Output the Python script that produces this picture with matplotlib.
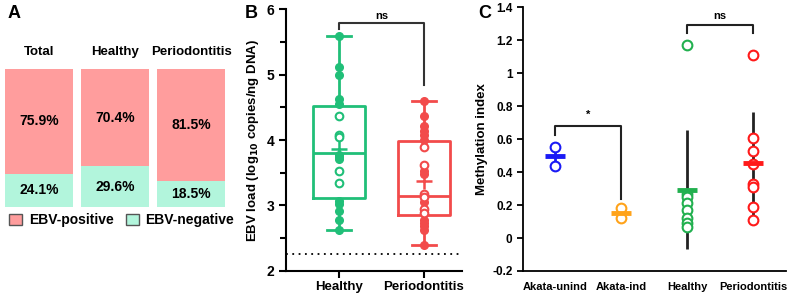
import numpy as np
import matplotlib
matplotlib.use("Agg")
import matplotlib.pyplot as plt
from matplotlib.patches import Patch
from matplotlib.ticker import MultipleLocator

plt.rcParams['font.family'] = ['Liberation Sans', 'DejaVu Sans']
plt.rcParams['font.weight'] = 'bold'

# panel A: EBV prevalence (%)
groups_a = ["Total", "Healthy", "Periodontitis"]
ebv_pos = [75.9, 70.4, 81.5]
ebv_neg = [24.1, 29.6, 18.5]

# panel B: EBV load, log10 copies/ng DNA
b_groups = ["Healthy", "Periodontitis"]
healthy_filled = [5.59, 5.12, 4.99, 4.63, 4.55, 3.77, 3.74, 3.71, 3.07, 3.03, 2.92, 2.78, 2.63]
healthy_open = [4.37, 4.08, 4.04, 3.53, 3.34]
perio_filled = [4.60, 4.36, 4.21, 4.13, 4.08, 4.00, 3.53, 3.48, 3.06, 2.78, 2.73, 2.68, 2.62, 2.39]
perio_open = [3.89, 3.62, 3.18, 3.13, 2.94, 2.88]
b_q1 = [3.11, 2.85]
b_median = [3.80, 3.15]
b_q3 = [4.52, 3.99]
b_min = [2.63, 2.39]
b_max = [5.59, 4.60]
b_mean = [3.87, 3.37]
detection_limit = 2.26

# panel C: methylation index
c_groups = ["Akata-unind", "Akata-ind", "Healthy", "Periodontitis"]
akata_unind = [0.55, 0.44]
akata_ind = [0.18, 0.12]
c_healthy = [1.17, 0.27, 0.25, 0.21, 0.17, 0.12, 0.09, 0.07]
c_perio = [1.11, 0.61, 0.53, 0.45, 0.33, 0.31, 0.19, 0.11]

green = "#20BF78"
red = "#F24B4B"
pink = "#FF9D9D"
mint = "#B2F5DC"

fig = plt.figure(figsize=(7.88, 2.95), dpi=100)

# ---------- A ----------
axA = fig.add_axes([0.0064, 0.2983, 0.2792, 0.4678])
xa = np.arange(len(groups_a))
axA.bar(xa, ebv_neg, width=0.895, color=mint)
axA.bar(xa, ebv_pos, bottom=ebv_neg, width=0.895, color=pink)
for i in xa:
    axA.text(i, ebv_neg[i] + ebv_pos[i] / 2, f"{ebv_pos[i]}%", ha="center", va="center",
             fontsize=10, fontweight="bold")
    axA.text(i, ebv_neg[i] / 2, f"{ebv_neg[i]}%", ha="center", va="center",
             fontsize=10, fontweight="bold")
    axA.text(i, 112, groups_a[i], ha="center", va="center", fontsize=9.5, fontweight="bold")
axA.set_xlim(-0.447, 2.447)
axA.set_ylim(0, 100)
axA.axis("off")
handles = [Patch(facecolor=pink, edgecolor="#555555", label="EBV-positive"),
           Patch(facecolor=mint, edgecolor="#555555", label="EBV-negative")]
fig.legend(handles=handles, loc="center left", bbox_to_anchor=(-0.004, 0.253), ncol=2,
           frameon=False, handlelength=0.9, handleheight=0.9,
           handletextpad=0.5, columnspacing=0.9, prop={"weight": "bold", "size": 10})

# ---------- B ----------
axB = fig.add_axes([0.363, 0.0814, 0.223, 0.888])
colors_b = [green, red]
stats = []
for i in range(2):
    stats.append(dict(med=b_median[i], q1=b_q1[i], q3=b_q3[i], whislo=b_min[i],
                      whishi=b_max[i], fliers=[], label=b_groups[i]))
pos = [1, 2]
for i in range(2):
    c = colors_b[i]
    axB.bxp([stats[i]], positions=[pos[i]], widths=0.61, showfliers=False,
            boxprops=dict(color=c, linewidth=2), medianprops=dict(color=c, linewidth=2),
            whiskerprops=dict(color=c, linewidth=2), capprops=dict(color=c, linewidth=2),
            capwidths=0.28)
filled = [healthy_filled, perio_filled]
opened = [healthy_open, perio_open]
for i in range(2):
    c = colors_b[i]
    axB.plot([pos[i]] * len(filled[i]), filled[i], "o", color=c, ms=5.5, zorder=3)
    axB.plot([pos[i]] * len(opened[i]), opened[i], "o", mfc="white", mec=c, mew=1.5,
             ms=5.5, zorder=3)
    axB.plot(pos[i], b_mean[i], "+", color=c, ms=12, mew=1.8, zorder=4)
axB.axhline(detection_limit, color="black", ls=(0, (1, 2.5)), lw=1.3)
# ns bracket
axB.plot([1, 1, 2, 2], [5.69, 5.78, 5.78, 4.84], color="#333333", lw=1.5)
axB.text(1.5, 5.82, "ns", ha="center", va="bottom", fontsize=8)
axB.set_xlim(0.376, 2.447)
axB.set_ylim(2, 6)
axB.set_xticks(pos)
axB.set_xticklabels(b_groups, fontsize=9.5, fontweight="bold")
axB.yaxis.set_major_locator(MultipleLocator(1))
axB.yaxis.set_minor_locator(MultipleLocator(0.5))
axB.tick_params(axis="y", labelsize=10, width=1.5, length=5)
axB.tick_params(axis="y", which="minor", width=1.5, length=4)
axB.tick_params(axis="x", width=1.5, length=5, pad=2)
for s in ["top", "right"]:
    axB.spines[s].set_visible(False)
for s in ["left", "bottom"]:
    axB.spines[s].set_linewidth(1.5)
axB.set_ylabel("EBV load (log$_{\\mathbf{10}}$ copies/ng DNA)", fontsize=9.5,
               fontweight="bold", labelpad=4)

# ---------- C ----------
axC = fig.add_axes([0.6637, 0.0814, 0.334, 0.8936])
c_data = [akata_unind, akata_ind, c_healthy, c_perio]
c_colors = ["#1A1AF5", "#FFA31A", "#22B04F", "#FF1A1A"]
err_colors = ["#1A1AF5", "#FFA31A", "#222222", "#222222"]
for i, vals in enumerate(c_data):
    m = np.mean(vals)
    sd = np.std(vals, ddof=1)
    axC.errorbar(i, m, yerr=sd, fmt="none", ecolor=err_colors[i], elinewidth=2, zorder=1)
    axC.plot([i] * len(vals), vals, "o", mfc="white", mec=c_colors[i], mew=1.5, ms=7,
             zorder=2)
    axC.hlines(m, i - 0.15, i + 0.15, color=c_colors[i], lw=3.5, zorder=3)
axC.plot([0, 0, 1, 1], [0.624, 0.679, 0.679, 0.238], color="#222222", lw=1.5)
axC.text(0.5, 0.72, "*", ha="center", va="bottom", fontsize=8)
axC.plot([2, 2, 3, 3], [1.244, 1.295, 1.295, 1.244], color="#222222", lw=1.5)
axC.text(2.5, 1.32, "ns", ha="center", va="bottom", fontsize=8)
axC.set_xlim(-0.485, 3.5)
axC.set_ylim(-0.2, 1.4)
yt = np.arange(-0.2, 1.41, 0.2)
axC.set_yticks(yt)
axC.set_yticklabels([f"{v:g}" if abs(v) > 1e-9 else "0" for v in np.round(yt, 1)])
axC.set_xticks(range(4))
axC.set_xticklabels(c_groups, fontsize=8, fontweight="bold")
axC.tick_params(axis="x", length=0, pad=8)
axC.tick_params(axis="y", labelsize=8.5, width=1.3, length=4)
for s in ["top", "right"]:
    axC.spines[s].set_visible(False)
for s in ["left", "bottom"]:
    axC.spines[s].set_linewidth(1.3)
axC.set_ylabel("Methylation index", fontsize=9.5, fontweight="bold", labelpad=3)

# panel letters
fig.text(0.010, 0.955, "A", fontsize=13, fontweight="bold", va="center")
fig.text(0.311, 0.955, "B", fontsize=13, fontweight="bold", va="center")
fig.text(0.607, 0.955, "C", fontsize=13, fontweight="bold", va="center")

fig.savefig("out.png", dpi=100)
